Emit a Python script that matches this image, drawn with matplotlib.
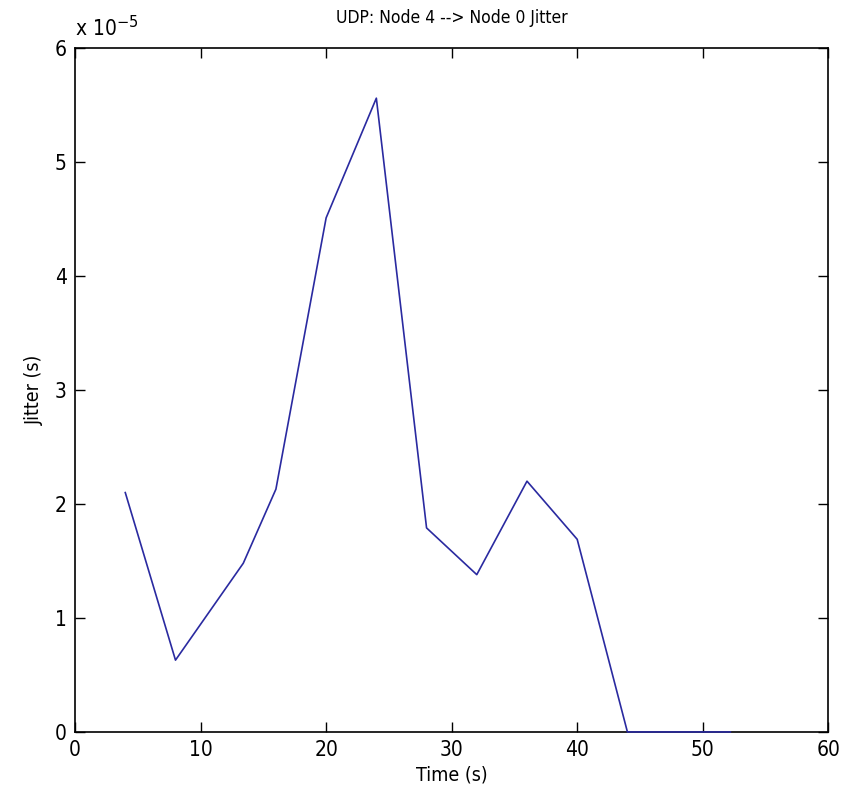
import matplotlib
matplotlib.use("Agg")
import matplotlib.pyplot as plt

# Data (jitter in units of 1e-5 s)
time_s = [4, 8, 13.4, 16, 20, 24, 28, 32, 36, 40, 44, 48, 52.2]
jitter_e5 = [2.1, 0.63, 1.48, 2.13, 4.51, 5.56, 1.79, 1.38, 2.2, 1.69, 0.0, 0.0, 0.0]
xticks = [0, 10, 20, 30, 40, 50, 60]
yticks = [0, 1, 2, 3, 4, 5, 6]

plt.rcParams['font.family'] = ['DejaVu Sans']

fig = plt.figure(figsize=(8.53, 8.07), dpi=100)
ax = fig.add_axes([0.088, 0.093, 0.883, 0.8475])
ax.plot(time_s, jitter_e5, color='#2a2aa0', linewidth=1.2, clip_on=False,
        zorder=5)
ax.set_xlim(0, 60)
ax.set_ylim(0, 6)
ax.set_xticks(xticks)
ax.set_yticks(yticks)
ax.tick_params(direction='in', top=True, right=True, length=7, width=1,
               labelsize=15, pad=6)
for lab in ax.get_xticklabels() + ax.get_yticklabels():
    lab.set_fontstretch('condensed')
for s in ax.spines.values():
    s.set_linewidth(1.2)
ax.set_xlabel('Time (s)', fontsize=14, fontstretch='condensed', labelpad=4)
ax.set_ylabel('Jitter (s)', fontsize=14, fontstretch='condensed', labelpad=8)
ax.set_title('UDP: Node 4 --> Node 0 Jitter', fontsize=12.5,
             fontstretch='condensed', pad=18)
ax.text(0.0, 1.012, r'x 10$^{-5}$', transform=ax.transAxes, fontsize=15,
        fontstretch='condensed', ha='left', va='bottom')

fig.savefig('out.png', dpi=100, facecolor='white')
